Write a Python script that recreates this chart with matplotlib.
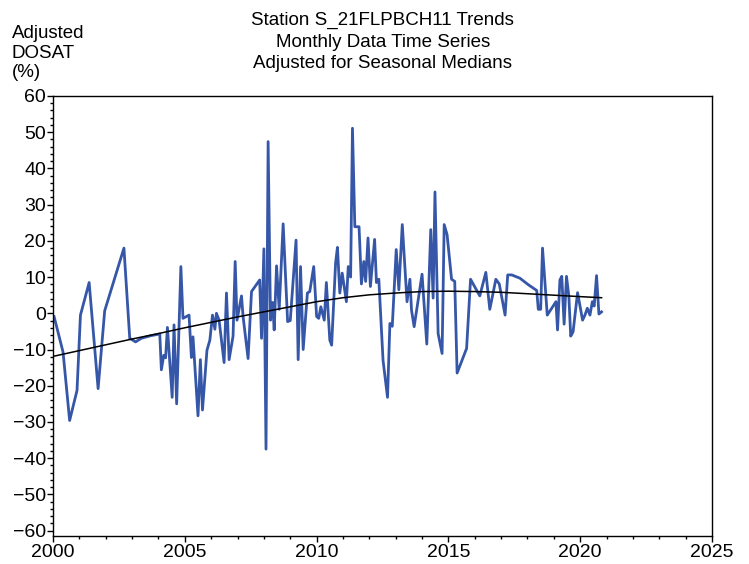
import matplotlib
matplotlib.use("Agg")
import matplotlib.pyplot as plt
from matplotlib.ticker import MultipleLocator

plt.rcParams['font.family'] = ['Liberation Sans', 'DejaVu Sans']

# monthly adjusted DOSAT (decimal year, % adjusted for seasonal medians)
years = [2000.04, 2000.38, 2000.63, 2000.91, 2001.04, 2001.37, 2001.71, 2001.96,
         2002.69, 2002.91, 2003.13, 2003.35, 2003.70, 2004.05, 2004.11, 2004.20,
         2004.27, 2004.34, 2004.52, 2004.59, 2004.69, 2004.85, 2004.93, 2005.16,
         2005.25, 2005.31, 2005.50, 2005.59, 2005.67, 2005.84, 2005.95, 2006.05,
         2006.14, 2006.20, 2006.30, 2006.49, 2006.58, 2006.68, 2006.83, 2006.91,
         2006.98, 2007.15, 2007.21, 2007.40, 2007.53, 2007.84, 2007.91, 2008.00,
         2008.08, 2008.16, 2008.25, 2008.33, 2008.39, 2008.48, 2008.58, 2008.73,
         2008.90, 2009.00, 2009.22, 2009.30, 2009.39, 2009.49, 2009.65, 2009.74,
         2009.89, 2010.00, 2010.08, 2010.16, 2010.29, 2010.37, 2010.50, 2010.57,
         2010.72, 2010.79, 2010.88, 2010.97, 2011.13, 2011.20, 2011.29, 2011.36,
         2011.45, 2011.61, 2011.70, 2011.79, 2011.86, 2011.95, 2012.04, 2012.20,
         2012.27, 2012.36, 2012.52, 2012.69, 2012.78, 2012.87, 2013.02, 2013.12,
         2013.25, 2013.43, 2013.54, 2013.60, 2013.70, 2014.00, 2014.18, 2014.33,
         2014.42, 2014.49, 2014.61, 2014.76, 2014.84, 2014.95, 2015.12, 2015.24,
         2015.33, 2015.69, 2015.84, 2016.19, 2016.42, 2016.57, 2016.80, 2016.93,
         2017.15, 2017.25, 2017.40, 2017.71, 2018.03, 2018.35, 2018.41, 2018.50,
         2018.57, 2018.75, 2019.08, 2019.14, 2019.23, 2019.30, 2019.39, 2019.48,
         2019.57, 2019.64, 2019.73, 2019.90, 2020.09, 2020.18, 2020.27, 2020.37,
         2020.46, 2020.53, 2020.62, 2020.71, 2020.81]
dosat = [-0.9, -10.7, -29.6, -21.3, -0.5, 8.5, -20.8, 0.7,
         18.0, -6.9, -7.9, -6.9, -6.2, -5.7, -15.6, -11.6,
         -12.3, -3.9, -23.2, -3.2, -25.0, 12.9, -1.4, -0.5,
         -12.2, -6.5, -28.3, -12.8, -26.7, -10.2, -7.4, -0.5,
         -4.4, 0.0, -1.9, -13.6, 5.6, -12.8, -6.3, 14.3,
         -1.9, 4.8, -0.9, -12.5, 6.0, 9.2, -6.9, 17.8,
         -37.5, 47.4, -1.9, 3.0, -4.6, 13.1, 1.1, 24.7,
         -2.3, -2.0, 20.2, -12.8, 12.9, -10.0, 5.6, 6.0,
         12.9, -0.9, -1.4, 1.8, -1.9, 8.5, -7.4, -8.8,
         13.9, 18.2, 5.6, 11.1, 3.2, 12.9, 10.0, 51.1,
         23.9, 23.9, 8.1, 14.3, 8.8, 20.8, 7.4, 20.4,
         8.5, 9.4, -13.0, -23.2, -2.8, -3.6, 17.6, 6.5,
         24.5, 3.2, 9.4, 0.9, -3.7, 10.8, -8.5, 23.1,
         4.2, 33.5, -5.6, -11.1, 24.5, 21.7, 9.4, 8.8,
         -16.5, -9.7, 9.4, 4.8, 11.3, 1.1, 9.4, 8.1,
         -0.5, 10.6, 10.6, 9.7, 7.9, 6.3, 1.1, 1.1,
         18.0, -0.5, 3.2, -4.6, 9.2, 10.2, -3.0, 10.2,
         4.6, -6.3, -5.1, 5.7, -1.9, -0.5, 1.4, -0.5,
         3.2, 2.0, 10.4, -0.2, 0.4]

# smoothed trend curve
trend_years = [2000, 2001, 2002, 2003, 2004, 2005, 2006, 2007, 2008, 2009, 2010,
               2011, 2012, 2013, 2014, 2015, 2016, 2017, 2018, 2019, 2020, 2020.81]
trend_vals = [-11.9, -10.3, -8.7, -7.1, -5.6, -4.0, -2.5, -1.0, 0.4, 1.8, 3.2,
              4.3, 5.1, 5.6, 6.0, 6.1, 6.0, 5.8, 5.4, 5.0, 4.6, 4.3]

fig = plt.figure(figsize=(7.49, 5.64), dpi=100)
ax = fig.add_axes([0.0708, 0.0496, 0.8798, 0.7802])

ax.plot(years, dosat, color='#3656a8', linewidth=2.0, zorder=2)
ax.plot(trend_years, trend_vals, color='black', linewidth=1.1, zorder=3)

ax.set_xlim(2000, 2025)
ax.set_ylim(-61.5, 60)
ax.xaxis.set_major_locator(MultipleLocator(5))
ax.xaxis.set_minor_locator(MultipleLocator(1))
ax.yaxis.set_major_locator(MultipleLocator(10))
ax.yaxis.set_minor_locator(MultipleLocator(2))
ax.tick_params(which='major', direction='out', length=4, width=1, labelsize=14, pad=1)
ax.tick_params(which='minor', direction='out', length=2, width=1)
ax.tick_params(axis='x', pad=2)
for s in ax.spines.values():
    s.set_linewidth(1.0)

fig.text(0.511, 0.979, 'Station S_21FLPBCH11 Trends\nMonthly Data Time Series\nAdjusted for Seasonal Medians',
         ha='center', va='top', fontsize=13.5, linespacing=1.36)
fig.text(0.016, 0.955, 'Adjusted\nDOSAT\n(%)', ha='left', va='top', fontsize=13.5, linespacing=1.17)

fig.savefig('out.png', dpi=100)
